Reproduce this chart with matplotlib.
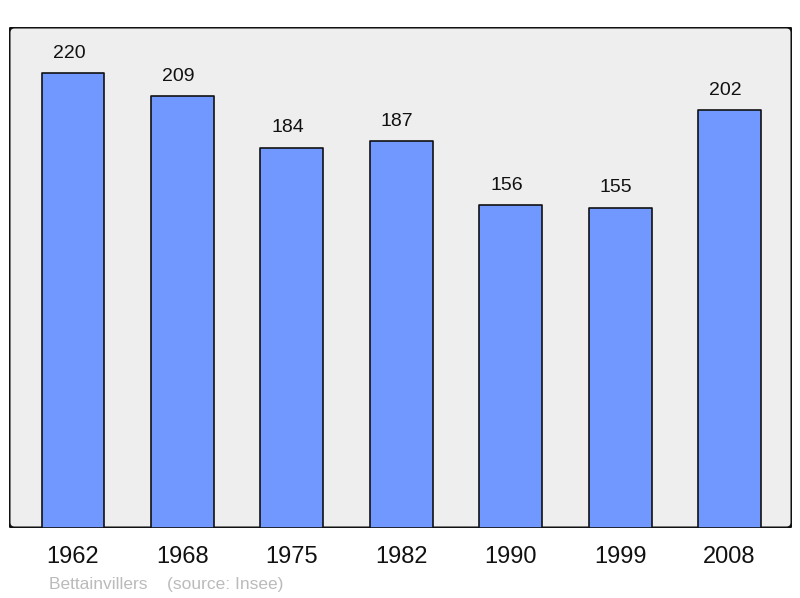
import matplotlib
matplotlib.use("Agg")
import matplotlib.pyplot as plt
from matplotlib.patches import FancyBboxPatch

years = ["1962", "1968", "1975", "1982", "1990", "1999", "2008"]
population = [220, 209, 184, 187, 156, 155, 202]
footer = "Bettainvillers    (source: Insee)"

plt.rcParams['font.family'] = ['Liberation Sans', 'DejaVu Sans']

fig = plt.figure(figsize=(8, 5.98), dpi=100)
ax = fig.add_axes([9/800, 70/598, 783/800, 501/598])
ax.set_facecolor('none')
for s in ax.spines.values():
    s.set_visible(False)

frame = FancyBboxPatch((0, 0), 1, 1, boxstyle="round,pad=0,rounding_size=0.007",
                       transform=ax.transAxes, facecolor='#eeeeee', edgecolor='#111111',
                       linewidth=2.2, zorder=0, mutation_aspect=783/501)
ax.add_patch(frame)

x = list(range(len(years)))
bars = ax.bar(x, population, width=0.575, color='#7098ff', edgecolor='#111111',
              linewidth=1.2, zorder=2)
for b in bars:
    b.set_joinstyle('round')

for xi, v in zip(x, population):
    ax.annotate(str(v), (xi, v), xytext=(-3, 8), textcoords='offset points',
                ha='center', va='bottom', fontsize=14, color='#111111')

ax.set_xlim(-0.585, 6.57)
ax.set_ylim(0, 242.3)
ax.set_yticks([])
ax.set_xticks(x)
ax.set_xticklabels(years, fontsize=17, color='#111111')
ax.tick_params(axis='x', length=0, pad=13)

fig.text(49/800, 1 - 584/598, footer, fontsize=12.5, color='#bbbbbb', ha='left', va='center')

fig.savefig('out.png', dpi=100)
